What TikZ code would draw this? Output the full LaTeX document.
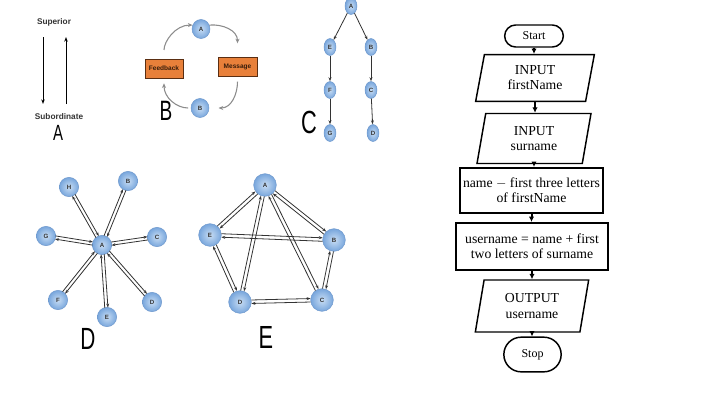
\documentclass[tikz,border=0pt]{standalone}
\usepackage{fontspec}
\setmainfont{Liberation Serif}
\setsansfont{Liberation Sans}
\newfontfamily\narrowsf[FakeStretch=0.68]{Liberation Sans}
\usetikzlibrary{shapes.geometric,shapes.misc,calc,arrows.meta}

\definecolor{ballblue}{HTML}{78A6DC}
\definecolor{ballhi}{HTML}{C8DDF4}
\definecolor{ballrim}{HTML}{6E98CC}
\definecolor{boxorange}{HTML}{E8803A}
\definecolor{boxrim}{HTML}{5A2E12}

\tikzset{
  ball/.style={ellipse, inner sep=0pt, draw=ballrim, line width=0.35pt,
    inner color=ballhi, outer color=ballblue, text=black!80,
    font=\sffamily\bfseries\fontsize{4.6}{5}\selectfont},
  bigtag/.style={inner sep=0pt, font=\narrowsf\fontsize{#1}{#1}\selectfont},
  smalltag/.style={inner sep=0pt, text=black!80, font=\sffamily\bfseries\fontsize{6.2}{7}\selectfont},
  orangebox/.style={draw=boxrim, fill=boxorange, line width=0.5pt, inner sep=0pt,
    minimum height=14.3pt, text=boxrim!60!black,
    font=\sffamily\bfseries\fontsize{4.9}{5}\selectfont},
  bcurve/.style={-{Stealth[length=3.5pt,width=3pt]}, draw=black!45, line width=0.8pt},
  link/.style={-{Stealth[length=3pt,width=2.2pt]}, draw=black!80, line width=0.6pt},
  flowbox/.style={draw, line width=1.1pt, align=center, font=\fontsize{10.3}{11.3}\selectfont},
  inout/.style={flowbox, trapezium, trapezium left angle=72, trapezium right angle=108,
    trapezium stretches body, inner sep=1pt},
  proc/.style={flowbox, rectangle, line width=1.6pt, inner sep=0pt},
  term/.style={flowbox, rounded rectangle, inner sep=0pt, font=\fontsize{9}{10}\selectfont},
  flow/.style={-{Latex[length=4pt,width=4pt]}, line width=1.5pt}
}

\begin{document}
\begin{tikzpicture}[x=0.75pt, y=-0.75pt]
 \useasboundingbox (0,0) rectangle (722,418);

 % A
 \node[smalltag] (sup) at (54,22) {Superior};
 \node[smalltag] (sub) at (59,117) {Subordinate};
 \coordinate (dn1) at (43,37);  \coordinate (dn2) at (43,104);
 \coordinate (up1) at (66,104); \coordinate (up2) at (66,37);
 \draw[-{Stealth[length=3.5pt,width=2.6pt]}, line width=0.6pt] (dn1) -- (dn2);
 \draw[-{Stealth[length=3.5pt,width=2.6pt]}, line width=0.6pt] (up1) -- (up2);
 \node[bigtag=16.5] (labA) at (58,133) {A};

 % B
 \node[ball, minimum width=13.5pt, minimum height=14.3pt] (bA) at (201,29) {A};
 \node[ball, minimum width=13.5pt, minimum height=14.3pt] (bB) at (200,108) {B};
 \node[orangebox, minimum width=28.5pt] (feed) at (164,68.5) {Feedback};
 \node[orangebox, minimum width=29.3pt] (mess) at (237.5,66.5) {Message};
 \draw[bcurve, shorten <=6.5pt] (feed.north) to[out=90, in=180] (bA.155);
 \draw[bcurve] (bA.25) to[out=5, in=90] ([yshift=10pt]mess.north);
 \draw[bcurve] ([yshift=-4pt]mess.south) to[out=-90, in=0] ([xshift=7pt]bB.east);
 \draw[bcurve, shorten <=2pt] (bB.west) to[out=180, in=-90] ([yshift=-3.7pt]feed.south);
 \node[bigtag=21] (labB) at (166,110.5) {B};

 % C
 \foreach \name/\x/\y in {A/351/6, E/330/47, B/371/47, F/330/90, C/371/90, G/330/133, D/373/133}
   \node[ball, minimum width=9pt, minimum height=12.75pt] (c\name) at (\x,\y) {\name};
 \foreach \source/\dest in {A/E, A/B, E/F, B/C, F/G, C/D}
   \draw[link] (c\source) -- (c\dest);
 \node[bigtag=24] (labC) at (309,122) {C};

 % D
 \foreach \name/\x/\y in {A/102/245, H/69/187, B/128/181, G/46/236, C/157/237, F/58/300, E/107/317, D/152/302}
   \node[ball, minimum size=14.5pt] (d\name) at (\x,\y) {\name};
 \foreach \dest in {H, B, G, C, F, E, D} {
   \draw[link, shorten <=7pt, shorten >=7pt] ($(dA)!1.2pt!90:(d\dest)$) -- ($(d\dest)!1.2pt!-90:(dA)$);
   \draw[link, shorten <=7pt, shorten >=7pt] ($(d\dest)!1.2pt!90:(dA)$) -- ($(dA)!1.2pt!-90:(d\dest)$);
 }
 \node[bigtag=23] (labD) at (88,339) {D};

 % E
 \foreach \name/\x/\y in {A/265/185, E/210/235, B/334/240, D/240/302, C/322/300}
   \node[ball, minimum size=17pt] (e\name) at (\x,\y) {\name};
 \foreach \source/\dest in {A/E, A/B, A/D, A/C, E/B, E/D, B/C, D/C} {
   \draw[link, shorten <=8.5pt, shorten >=8.5pt] ($(e\source)!1.3pt!90:(e\dest)$) -- ($(e\dest)!1.3pt!-90:(e\source)$);
   \draw[link, shorten <=8.5pt, shorten >=8.5pt] ($(e\dest)!1.3pt!90:(e\source)$) -- ($(e\source)!1.3pt!-90:(e\dest)$);
 }
 \node[bigtag=24] (labE) at (266,337) {E};

 % flowchart
 \node[term, minimum width=44pt, minimum height=16.5pt] (start) at (534,36) {Start};
 \node[inout, minimum width=89pt, minimum height=35pt] (in1) at (535,78) {INPUT\\firstName};
 \node[inout, minimum width=85.5pt, minimum height=37.5pt] (in2) at (534,138.5) {INPUT\\surname};
 \node[proc, minimum width=107pt, minimum height=33.75pt] (pr1) at (531.5,190.5) {name $-$ first three letters\\of firstName};
 \node[proc, minimum width=114pt, minimum height=35.25pt] (pr2) at (532,246.5) {username = name + first\\two letters of surname};
 \node[inout, minimum width=85pt, minimum height=39pt] (out) at (532,306) {OUTPUT\\username};
 \node[term, minimum width=43pt, minimum height=26pt] (stop) at (532.5,354.5) {Stop};

 % lines
 \foreach \source/\dest in {start/in1, in1/in2, in2/pr1, pr1/pr2, pr2/out, out/stop}
   \draw[flow] (\source.south) -- (\source.south |- \dest.north);

\end{tikzpicture}
\end{document}
